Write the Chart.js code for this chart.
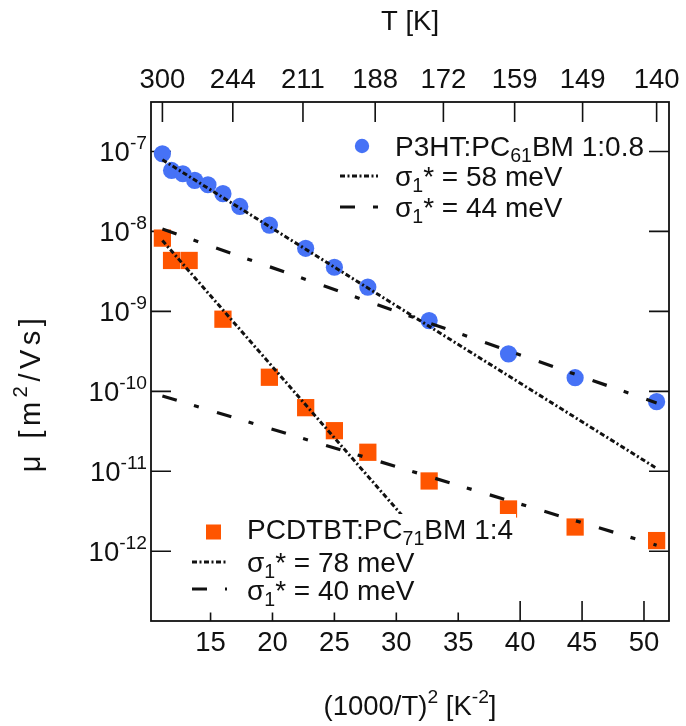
<!DOCTYPE html>
<html>
<head>
<meta charset="utf-8">
<script src="https://cdn.jsdelivr.net/npm/chart.js@4.4.0/dist/chart.umd.min.js"></script>
<style>
  html, body { margin: 0; padding: 0; background: #ffffff; }
  #wrap { width: 686px; height: 726px; }
</style>
</head>
<body>
<div id="wrap"><canvas id="c" width="686" height="726"></canvas></div>
<script>
// x values are (1000/T)^2 in K^-2, mobilities in m^2/Vs
const p3htX   = [11.11, 11.85, 12.76, 13.72, 14.79, 16.00, 17.36, 19.75, 22.68, 25.00, 27.70, 32.65, 39.06, 44.44, 51.02];
const p3htMu  = [9.35e-8, 5.78e-8, 5.26e-8, 4.34e-8, 3.83e-8, 2.96e-8, 2.05e-8, 1.20e-8, 6.15e-9, 3.56e-9, 2.01e-9, 7.67e-10, 2.94e-10, 1.48e-10, 7.43e-11];
const pcdtbtX  = [11.11, 11.85, 13.27, 16.00, 19.75, 22.68, 25.00, 27.70, 32.65, 39.06, 44.44, 51.02];
const pcdtbtMu = [8.24e-9, 4.33e-9, 4.33e-9, 7.98e-10, 1.50e-10, 6.25e-11, 3.22e-11, 1.73e-11, 7.57e-12, 3.38e-12, 2.01e-12, 1.36e-12];

// straight fits of log(mu) against (1000/T)^2, given by their end points
const fit58X = [11.11, 51.02]; const fit58Mu = [7.87e-8, 1.09e-11];
const fit44X = [11.11, 51.02]; const fit44Mu = [1.07e-8, 7.16e-11];
const fit78X = [11.11, 30.56]; const fit78Mu = [7.69e-9, 2.70e-12];
const fit40X = [11.11, 51.02]; const fit40Mu = [8.75e-11, 1.19e-12];

// axis ticks
const bottomTicks = [15, 20, 25, 30, 35, 40, 45, 50];
const topTempTicks = [300, 244, 211, 188, 172, 159, 149, 140];   // T in K
const yExponents = [-7, -8, -9, -10, -11, -12];

const BLUE = '#4672f6';
const ORANGE = '#ff5500';
const INK = '#111111';
const FONT = '"Liberation Sans", Arial, Helvetica, sans-serif';
const DOTTED = [5, 2.5, 2, 2.5];
const DASHDOT = [15, 18, 5, 19];

const pts = (xs, ys) => xs.map((x, i) => ({ x: x, y: ys[i] }));

// draw a run of text pieces, some of them raised or lowered
function setFont(ctx, s, spacing) {
  ctx.font = s + 'px ' + FONT;
  ctx.letterSpacing = (spacing || 0) + 'px';
}
function richWidth(ctx, parts, size, spacing) {
  let w = 0;
  for (const p of parts) {
    setFont(ctx, p.s ? size * 0.7 : size, spacing);
    w += ctx.measureText(p.t).width;
  }
  return w;
}
function drawRich(ctx, parts, x, yMid, align, size, spacing) {
  const w = richWidth(ctx, parts, size, spacing);
  let cx = align === 'right' ? x - w : align === 'center' ? x - w / 2 : x;
  const base = yMid + size * 0.36;
  ctx.textAlign = 'left';
  ctx.textBaseline = 'alphabetic';
  ctx.fillStyle = INK;
  for (const p of parts) {
    setFont(ctx, p.s ? size * 0.7 : size, spacing);
    let y = base;
    if (p.s === 'sup') y = base - size * 0.45;
    if (p.s === 'sub') y = base + size * 0.22;
    ctx.fillText(p.t, cx, y);
    cx += ctx.measureText(p.t).width;
  }
  ctx.letterSpacing = '0px';
}

function sample(ctx, x0, x1, y, dash, lw) {
  ctx.save();
  ctx.strokeStyle = INK;
  ctx.lineWidth = lw;
  ctx.setLineDash(dash);
  ctx.lineCap = 'butt';
  ctx.beginPath();
  ctx.moveTo(x0, y);
  ctx.lineTo(x1, y);
  ctx.stroke();
  ctx.restore();
}

const framePlugin = {
  id: 'frame',
  beforeDatasetsDraw(chart) {
    const { ctx, chartArea: a, scales } = chart;
    const xs = scales.x, ys = scales.y;
    ctx.save();
    ctx.strokeStyle = INK;
    ctx.lineWidth = 1.6;
    ctx.beginPath();
    for (const v of bottomTicks) {
      const px = xs.getPixelForValue(v);
      ctx.moveTo(px, a.bottom); ctx.lineTo(px, a.bottom - 20);
    }
    for (const T of topTempTicks) {
      const px = xs.getPixelForValue(Math.pow(1000 / T, 2));
      ctx.moveTo(px, a.top); ctx.lineTo(px, a.top + 20);
    }
    for (const e of yExponents) {
      const py = ys.getPixelForValue(Math.pow(10, e));
      ctx.moveTo(a.left, py); ctx.lineTo(a.left + 20, py);
      ctx.moveTo(a.right, py); ctx.lineTo(a.right - 20, py);
    }
    ctx.stroke();
    ctx.restore();
  },
  afterDatasetsDraw(chart) {
    const { ctx, chartArea: a, scales } = chart;
    const xs = scales.x, ys = scales.y;
    ctx.save();

    // lower key sits on an opaque box
    ctx.fillStyle = '#ffffff';
    ctx.fillRect(175, 514, 341, 98.5);

    // frame
    ctx.strokeStyle = INK;
    ctx.lineWidth = 1.8;
    ctx.strokeRect(a.left, a.top, a.right - a.left, a.bottom - a.top);

    // tick labels
    const TS = 27.5;
    for (const v of bottomTicks) {
      drawRich(ctx, [{ t: String(v) }], xs.getPixelForValue(v), a.bottom + 20, 'center', TS);
    }
    for (const T of topTempTicks) {
      drawRich(ctx, [{ t: String(T) }], xs.getPixelForValue(Math.pow(1000 / T, 2)), a.top - 24, 'center', TS);
    }
    for (const e of yExponents) {
      drawRich(ctx, [{ t: '10' }, { t: String(e), s: 'sup' }], 147, ys.getPixelForValue(Math.pow(10, e)), 'right', TS);
    }

    // axis titles
    const cx = (a.left + a.right) / 2;
    drawRich(ctx, [{ t: 'T [K]' }], cx, 20, 'center', TS);
    drawRich(ctx, [{ t: '(1000/T)' }, { t: '2', s: 'sup' }, { t: ' [K' }, { t: '-2', s: 'sup' }, { t: ']' }], cx, 705, 'center', TS);
    ctx.save();
    ctx.translate(30, 393);
    ctx.rotate(-Math.PI / 2);
    drawRich(ctx, [{ t: '\u03bc [m' }, { t: '2', s: 'sup' }, { t: '/Vs]' }], 0, 0, 'center', 29, 4.5);
    ctx.restore();

    // upper key
    const LS = 28;
    ctx.fillStyle = BLUE;
    ctx.beginPath(); ctx.arc(362, 146, 7.2, 0, Math.PI * 2); ctx.fill();
    drawRich(ctx, [{ t: 'P3HT:PC' }, { t: '61', s: 'sub' }, { t: 'BM 1:0.8' }], 395, 146, 'left', LS);
    sample(ctx, 340, 378, 176, DOTTED, 3);
    drawRich(ctx, [{ t: '\u03c3' }, { t: '1', s: 'sub' }, { t: '* = 58 meV' }], 395, 176, 'left', LS);
    sample(ctx, 340, 378, 207, DASHDOT, 3.2);
    drawRich(ctx, [{ t: '\u03c3' }, { t: '1', s: 'sub' }, { t: '* = 44 meV' }], 395, 207, 'left', LS);

    // lower key
    ctx.fillStyle = ORANGE;
    ctx.fillRect(206, 524.5, 15, 15);
    drawRich(ctx, [{ t: 'PCDTBT:PC' }, { t: '71', s: 'sub' }, { t: 'BM 1:4' }], 247, 529, 'left', LS);
    sample(ctx, 192, 227, 562, DOTTED, 3);
    drawRich(ctx, [{ t: '\u03c3' }, { t: '1', s: 'sub' }, { t: '* = 78 meV' }], 247, 562, 'left', LS);
    sample(ctx, 192, 227, 589, DASHDOT, 3.2);
    drawRich(ctx, [{ t: '\u03c3' }, { t: '1', s: 'sub' }, { t: '* = 40 meV' }], 247, 590, 'left', LS);

    ctx.restore();
  }
};

const lineDs = (label, xs, ys, dash, lw) => ({
  label: label,
  data: pts(xs, ys),
  showLine: true,
  borderColor: INK,
  borderWidth: lw,
  borderDash: dash,
  pointRadius: 0,
  fill: false,
  order: 0
});

new Chart(document.getElementById('c'), {
  type: 'scatter',
  data: {
    datasets: [
      lineDs('\u03c31* = 58 meV', fit58X, fit58Mu, DOTTED, 3),
      lineDs('\u03c31* = 44 meV', fit44X, fit44Mu, DASHDOT, 3.2),
      lineDs('\u03c31* = 78 meV', fit78X, fit78Mu, DOTTED, 3),
      lineDs('\u03c31* = 40 meV', fit40X, fit40Mu, DASHDOT, 3.2),
      {
        label: 'P3HT:PC61BM 1:0.8',
        data: pts(p3htX, p3htMu),
        pointStyle: 'circle',
        pointRadius: 8.6,
        backgroundColor: BLUE,
        borderWidth: 0,
        order: 1
      },
      {
        label: 'PCDTBT:PC71BM 1:4',
        data: pts(pcdtbtX, pcdtbtMu),
        pointStyle: 'rect',
        pointRadius: 12.2,
        backgroundColor: ORANGE,
        borderWidth: 0,
        order: 1
      }
    ]
  },
  options: {
    responsive: false,
    animation: false,
    devicePixelRatio: 1,
    layout: { padding: { left: 151, right: 17, top: 102, bottom: 105 } },
    plugins: { legend: { display: false }, tooltip: { enabled: false } },
    scales: {
      x: { type: 'linear', min: 10.19, max: 52.02, display: false },
      y: { type: 'logarithmic', min: 1.343e-13, max: 4.15e-7, display: false }
    }
  },
  plugins: [framePlugin]
});
</script>
</body>
</html>
